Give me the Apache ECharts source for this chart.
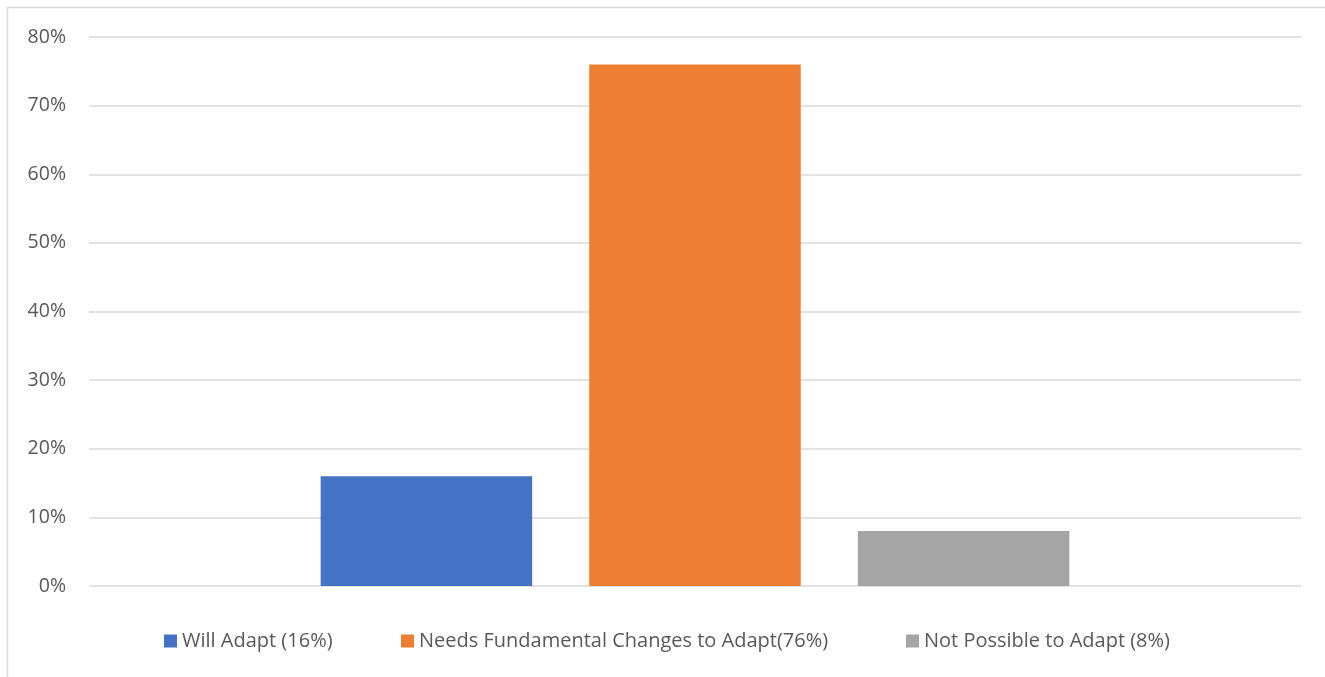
<!DOCTYPE html>
<html><head><meta charset="utf-8">
<script src="https://cdn.jsdelivr.net/npm/echarts@6/dist/echarts.min.js"></script>
<style>html,body{margin:0;padding:0;background:#fff}#c{width:1325px;height:677px}</style>
</head><body><div id="c"></div>
<script>
const categories = [''];
const seriesNames = ['Will Adapt (16%)', 'Needs Fundamental Changes to Adapt(76%)', 'Not Possible to Adapt (8%)'];
const seriesValues = [[0.16], [0.76], [0.08]];
const colors = ['#4472C4', '#ED7D31', '#A5A5A5'];
const yTicks = [0, 0.1, 0.2, 0.3, 0.4, 0.5, 0.6, 0.7, 0.8];
const legendLefts = [164, 401, 906];

const font = 'Open Sans';
const chart = echarts.init(document.getElementById('c'), null, {renderer: 'canvas'});
chart.setOption({
  animation: false,
  backgroundColor: '#fff',
  graphic: [{type: 'rect', shape: {x: 7.5, y: 7.5, width: 1400, height: 800}, style: {fill: 'none', stroke: '#d9d9d9', lineWidth: 1.5}, silent: true}],
  grid: {left: 89, right: 24, top: 37, bottom: 91},
  legend: seriesNames.map((n, i) => ({
    left: legendLefts[i], top: 631, padding: 0, itemWidth: 13, itemHeight: 13, itemGap: 0, icon: 'rect',
    textStyle: {color: '#595959', fontFamily: font, fontSize: 20},
    data: [n]
  })),
  xAxis: {type: 'category', data: categories, axisLine: {show: false}, axisTick: {show: false}, axisLabel: {show: false}},
  yAxis: {
    type: 'value', min: yTicks[0], max: yTicks[yTicks.length - 1], interval: 0.1,
    axisLine: {show: false}, axisTick: {show: false},
    splitLine: {lineStyle: {color: '#d9d9d9', width: 1.5}},
    axisLabel: {color: '#595959', fontFamily: font, fontSize: 19.5, margin: 23, formatter: v => Math.round(v * 100) + '%'}
  },
  series: seriesNames.map((n, i) => ({
    name: n, type: 'bar', data: seriesValues[i], barWidth: 211.5, barGap: '27%',
    itemStyle: {color: colors[i]}
  }))
});
</script></body></html>
